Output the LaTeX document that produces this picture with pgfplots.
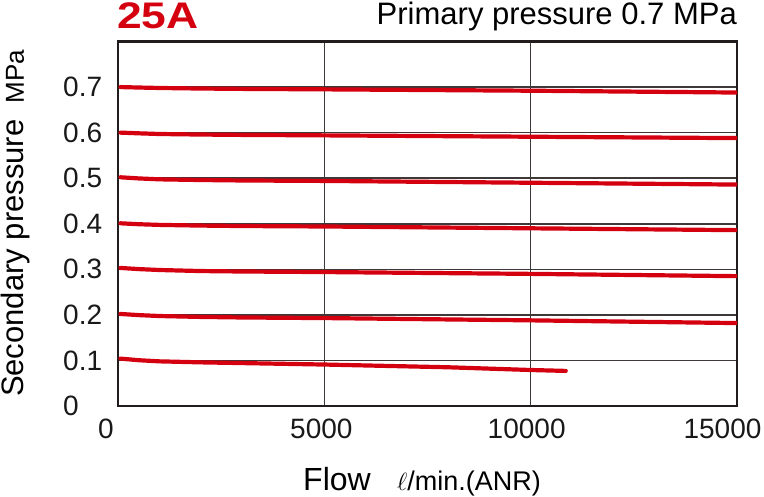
\documentclass[border=0pt]{standalone}
\usepackage{pgfplots}
\pgfplotsset{compat=1.18}
\usepackage{fontspec}
\setmainfont{Liberation Sans}
\definecolor{curvered}{RGB}{212,0,16}
\definecolor{titlered}{RGB}{212,0,16}
\definecolor{gridgray}{RGB}{62,56,56}
\definecolor{framecol}{RGB}{35,28,28}
\tikzset{curve/.style={draw=curvered, line width=4.2pt, line cap=round, line join=round, mark=none}}
\begin{document}
\begin{tikzpicture}
\begin{axis}[name=ax, at={(0,0)}, anchor=south west,
  scale only axis, width=619pt, height=364.5pt,
  xmin=0, xmax=15000, ymin=0, ymax=0.8,
  scaled x ticks=false, scaled y ticks=false,
  xtick={0,5000,10000,15000},
  xticklabels={0\rule{24pt}{0pt},5000\rule{6pt}{0pt},10000\rule{8pt}{0pt},15000\rule{29pt}{0pt}},
  ytick={0,0.1,0.2,0.3,0.4,0.5,0.6,0.7},
  yticklabels={0,0.1,0.2,0.3,0.4,0.5,0.6,0.7},
  grid=major, major grid style={gridgray, line width=1.6pt},
  axis line style={line width=2.8pt, draw=framecol},
  major tick length=0pt,
  tick label style={font=\fontsize{28}{30}\selectfont, text=black!90},
  xticklabel style={yshift=-9pt},
  yticklabel style={anchor=west, xshift=-55pt, inner sep=0pt},
]
\addplot[curve] coordinates {(60,0.700) (500,0.699) (1000,0.698) (2000,0.6968) (3000,0.696) (5000,0.695) (10000,0.692) (15000,0.688)};
\addplot[curve] coordinates {(60,0.600) (500,0.5985) (1000,0.597) (2000,0.5958) (3000,0.595) (5000,0.594) (10000,0.591) (15000,0.588)};
\addplot[curve] coordinates {(60,0.502) (500,0.4995) (1000,0.4975) (2000,0.496) (3000,0.495) (5000,0.494) (10000,0.490) (15000,0.486)};
\addplot[curve] coordinates {(60,0.401) (500,0.399) (1000,0.3975) (2000,0.396) (3000,0.395) (5000,0.394) (10000,0.390) (15000,0.386)};
\addplot[curve] coordinates {(60,0.303) (500,0.3005) (1000,0.2985) (2000,0.2962) (3000,0.2952) (5000,0.294) (10000,0.290) (15000,0.285)};
\addplot[curve] coordinates {(60,0.202) (500,0.1995) (1000,0.1975) (2000,0.1955) (3000,0.1943) (5000,0.193) (10000,0.188) (15000,0.182)};
\addplot[curve] coordinates {(60,0.104) (500,0.1005) (1000,0.098) (2000,0.0958) (3000,0.0942) (5000,0.091) (8000,0.085) (10000,0.079) (10850,0.077)};
\end{axis}
% titles and labels (image px -> tikz: x-118, 406-y)
\node[anchor=base west, inner sep=0pt, text=titlered] at (-1pt,377.5pt)
  {\scalebox{1.2}[1]{\fontsize{37}{39}\selectfont\bfseries 25A}};
\node[anchor=base east, inner sep=0pt] at (619pt,381pt)
  {\fontsize{31}{33}\selectfont Primary pressure 0.7 MPa};
\node[anchor=base west, inner sep=0pt] at (185pt,-84pt)
  {\fontsize{32}{34}\selectfont Flow};
\node[anchor=base west, inner sep=0pt] at (279pt,-84pt)
  {\fontsize{27}{29}\selectfont $\ell$/min.(ANR)};
\node[anchor=base, rotate=90, inner sep=0pt] at (-94pt,182.5pt)
  {\fontsize{31}{33}\selectfont Secondary pressure\hspace{16pt}{\fontsize{26}{28}\selectfont MPa}};
\pgfresetboundingbox
\path[use as bounding box] (-118pt,-90pt) rectangle (646pt,406pt);
\end{tikzpicture}
\end{document}
